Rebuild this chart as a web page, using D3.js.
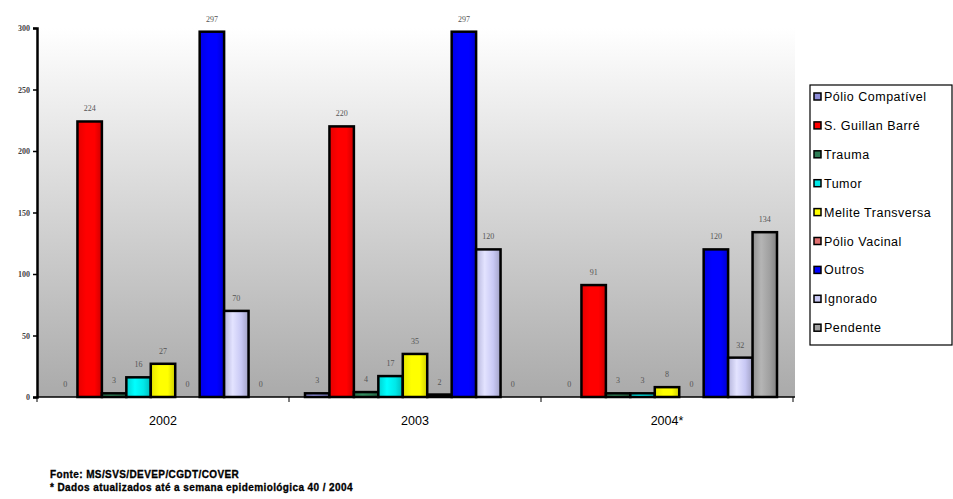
<!DOCTYPE html>
<html>
<head>
<meta charset="utf-8">
<script src="https://cdn.jsdelivr.net/npm/d3@7/dist/d3.min.js"></script>
<style>
  body{margin:0;background:#fff}
  svg{display:block}
</style>
</head>
<body>
<script>
// data
const years = ["2002", "2003", "2004*"]
const series = ["Pólio Compatível","S. Guillan Barré","Trauma","Tumor","Mielite Transversa","Pólio Vacinal","Outros","Ignorado","Pendente"]
const legendNames = ["Pólio Compatível","S. Guillan Barré","Trauma","Tumor","Melite Transversa","Pólio Vacinal","Outros","Ignorado","Pendente"]
const colors = ["#8c8cd8","#ff0000","#2f7d56","#00e8e8","#ffff00","#e07070","#0000ff","#c8c8f4","#a0a0a0"]
const values2002 = [0, 224, 3, 16, 27, 0, 297, 70, 0]
const values2003 = [3, 220, 4, 17, 35, 2, 297, 120, 0]
const values2004 = [0, 91, 3, 3, 8, 0, 120, 32, 134]
const yTicks = [0, 50, 100, 150, 200, 250, 300]
const notes = ["Fonte: MS/SVS/DEVEP/CGDT/COVER", "* Dados atualizados até a semana epidemiológica 40 / 2004"]

const allValues = [values2002, values2003, values2004]
const W = 953, H = 499
const plotL = 37, plotR = 795, plotT = 28, plotB = 397

const svg = d3.select("body").append("svg").attr("width", W).attr("height", H)
const defs = svg.append("defs")

// plot background gradient
const bg = defs.append("linearGradient").attr("id","bg").attr("x1",0).attr("y1",0).attr("x2",0).attr("y2",1)
bg.append("stop").attr("offset","0%").attr("stop-color","#ffffff")
bg.append("stop").attr("offset","100%").attr("stop-color","#aaaaaa")

// bar gradients (cylinder like)
colors.forEach((c,i)=>{
  let g = defs.append("linearGradient").attr("id","bar"+i).attr("x1",0).attr("y1",0).attr("x2",1).attr("y2",0)
  let col = d3.color(c)
  g.append("stop").attr("offset","0%").attr("stop-color", col.darker(0.3))
  g.append("stop").attr("offset","35%").attr("stop-color", col.brighter(0.35))
  g.append("stop").attr("offset","70%").attr("stop-color", c)
  g.append("stop").attr("offset","100%").attr("stop-color", col.darker(0.6))
})

const x0 = d3.scaleBand().domain(years).range([plotL, 793]).padding(0)
const x1 = d3.scaleBand().domain(series).range([16, 236]).padding(0)
const y = d3.scaleLinear().domain([0, 300]).range([plotB, plotT])

svg.append("rect").attr("x", plotL).attr("y", plotT).attr("width", plotR - plotL).attr("height", plotB - plotT)
  .attr("fill", "url(#bg)")

// bars
const groups = svg.selectAll(".grp").data(years).enter().append("g")
  .attr("class","grp")
  .attr("transform", d => `translate(${x0(d)},0)`)

groups.each(function(yr, gi){
  const g = d3.select(this)
  const vals = allValues[gi]
  vals.forEach((v, i) => {
    if (v > 0) {
      g.append("rect")
        .attr("x", x1(series[i]))
        .attr("y", y(v))
        .attr("width", x1.bandwidth())
        .attr("height", y(0) - y(v))
        .attr("fill", `url(#bar${i})`)
        .attr("stroke", "#000")
        .attr("stroke-width", 2.5)
    }
    g.append("text")
      .attr("x", x1(series[i]) + x1.bandwidth() / 2)
      .attr("y", y(v) - 10)
      .attr("text-anchor", "middle")
      .attr("font-family", "Liberation Serif, serif")
      .attr("font-size", 8)
      .attr("fill", "#555")
      .text(v)
  })
})

// y axis
const yAxis = d3.axisLeft(y).tickValues(yTicks).tickSize(4).tickPadding(3)
const ya = svg.append("g").attr("transform", `translate(${plotL},0)`).call(yAxis)
ya.select(".domain").attr("stroke-width", 2.5)
ya.selectAll(".tick line").attr("stroke-width", 1.5)
ya.selectAll("text").attr("font-family", "Liberation Serif, serif").attr("font-size", 8)
  .attr("font-weight", "bold").attr("fill", "#444")

// x axis
const xa = svg.append("g").attr("transform", `translate(0,${plotB})`)
xa.append("line").attr("x1", plotL).attr("x2", plotR).attr("y1", 0).attr("y2", 0).attr("stroke", "#000").attr("stroke-width", 1.5)
xa.selectAll(".xt").data(years.concat(["end"])).enter().append("line")
  .attr("x1", (d,i) => i < years.length ? x0(d) : x0(years[years.length-1]) + x0.bandwidth())
  .attr("x2", (d,i) => i < years.length ? x0(d) : x0(years[years.length-1]) + x0.bandwidth())
  .attr("y1", 0).attr("y2", 5).attr("stroke", "#000")
xa.selectAll(".xl").data(years).enter().append("text")
  .attr("x", d => x0(d) + x0.bandwidth() / 2)
  .attr("y", 28)
  .attr("text-anchor", "middle")
  .attr("font-family", "Liberation Sans, Arial, sans-serif")
  .attr("font-size", 12.5)
  .text(d => d)

// legend
const lg = svg.append("g").attr("transform", "translate(810,85)")
lg.append("rect").attr("x", 0).attr("y", 0).attr("width", 142).attr("height", 260)
  .attr("fill", "#fff").attr("stroke", "#000").attr("stroke-width", 1.2)
legendNames.forEach((n, i) => {
  const yy = 12 + i * 28.9
  lg.append("rect").attr("x", 4).attr("y", yy - 4).attr("width", 7).attr("height", 7)
    .attr("fill", colors[i]).attr("stroke", "#000").attr("stroke-width", 1.5)
  lg.append("text").attr("x", 14).attr("y", yy + 4)
    .attr("font-family", "Liberation Sans, Arial, sans-serif").attr("font-size", 12.5)
    .attr("letter-spacing", 0.5)
    .text(n)
})

// footnotes
svg.selectAll(".note").data(notes).enter().append("text")
  .attr("x", 50).attr("y", (d, i) => 478 + i * 13)
  .attr("font-family", "Liberation Sans, Arial, sans-serif")
  .attr("font-size", 10).attr("font-weight", "bold")
  .attr("letter-spacing", 0.4)
  .attr("stroke", "#000").attr("stroke-width", 0.3)
  .text(d => d)
</script>
</body>
</html>
